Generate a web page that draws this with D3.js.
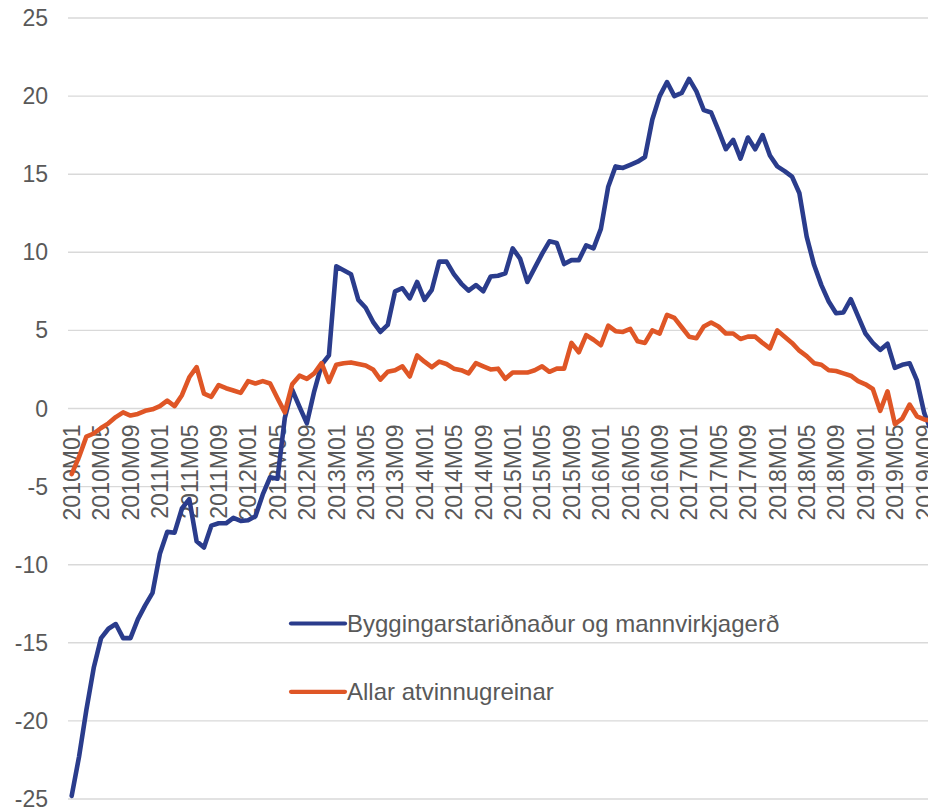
<!DOCTYPE html>
<html>
<head>
<meta charset="utf-8">
<script src="https://cdn.jsdelivr.net/npm/d3@7"></script>
<style>
    body { margin: 0; background: #fff; }
    text { font-family: "Liberation Sans", Arial, sans-serif; fill: #595959; }
</style>
</head>
<body>
<div id="main_view_panel"></div>
<script>
// months 2010M01 .. 2019M10
let months = [];
for (let y = 2010; y <= 2019; y++) {
    for (let m = 1; m <= 12; m++) {
        if (y == 2019 && m > 10) break;
        months.push(y + 'M' + (m < 10 ? '0' + m : m));
    }
}

let yTicks = [-25, -20, -15, -10, -5, 0, 5, 10, 15, 20, 25];

let seriesNames = ['Byggingarstariðnaður og mannvirkjagerð', 'Allar atvinnugreinar'];
let seriesColors = ['#2a3c8c', '#df5626'];

let bygging = [
    -24.8, -22.3, -19.3, -16.6, -14.7, -14.1, -13.8, -14.7, -14.7, -13.5, -12.6, -11.8,
    -9.3, -7.9, -7.95, -6.4, -5.8, -8.5, -8.9, -7.5, -7.35, -7.35, -7.0, -7.2,
    -7.15, -6.9, -5.5, -4.4, -4.5, -0.6, 1.2, 0.1, -0.95, 1.1, 2.8, 3.4,
    9.1, 8.85, 8.6, 6.95, 6.45, 5.55, 4.9, 5.35, 7.5, 7.7, 7.05, 8.1,
    6.95, 7.6, 9.4, 9.4, 8.6, 8.0, 7.55, 7.9, 7.5, 8.45, 8.5, 8.65,
    10.25, 9.6, 8.1, 9.0, 9.9, 10.7, 10.6, 9.25, 9.5, 9.5, 10.45, 10.25,
    11.5, 14.2, 15.5, 15.4, 15.6, 15.8, 16.1, 18.5, 20.0, 20.9, 20.0, 20.2,
    21.1, 20.3, 19.1, 18.95, 17.8, 16.6, 17.2, 16.0, 17.35, 16.6, 17.5, 16.2,
    15.5, 15.2, 14.85, 13.8, 11.0, 9.2, 7.9, 6.85, 6.1, 6.15, 7.0, 5.9,
    4.8, 4.2, 3.75, 4.15, 2.6, 2.8, 2.9, 1.8, -0.3, -1.5
];

let allar = [
    -4.2, -3.1, -1.8, -1.6, -1.25, -0.95, -0.55, -0.25, -0.45, -0.35, -0.15, -0.05,
    0.15, 0.5, 0.15, 0.85, 2.0, 2.65, 0.95, 0.75, 1.5, 1.3, 1.15, 1.0,
    1.75, 1.6, 1.75, 1.6, 0.65, -0.25, 1.55, 2.1, 1.9, 2.25, 2.9, 1.7,
    2.8, 2.9, 2.95, 2.85, 2.75, 2.5, 1.85, 2.35, 2.45, 2.7, 2.05, 3.4,
    3.0, 2.65, 3.0, 2.85, 2.55, 2.45, 2.25, 2.9, 2.7, 2.5, 2.55, 1.9,
    2.3, 2.3, 2.3, 2.45, 2.7, 2.35, 2.55, 2.55, 4.2, 3.6, 4.7, 4.4,
    4.05, 5.3, 4.95, 4.9, 5.1, 4.3, 4.2, 5.0, 4.8, 6.0, 5.8, 5.2,
    4.6, 4.5, 5.25, 5.5, 5.25, 4.8, 4.8, 4.45, 4.6, 4.6, 4.2, 3.85,
    5.0, 4.6, 4.2, 3.7, 3.35, 2.9, 2.8, 2.45, 2.4, 2.25, 2.1, 1.75,
    1.55, 1.25, -0.15, 1.1, -1.0, -0.65, 0.25, -0.5, -0.7, -0.8
];

let series = [bygging, allar];

let width = 928, height = 810;
let margin = { left: 68, top: 18, bottom: 11 };
let step = 7.35;

let svg = d3.select('#main_view_panel')
    .append('svg')
    .attr('width', width)
    .attr('height', height);

let x_axis = d3.scalePoint()
    .domain(months)
    .range([margin.left + step / 2, margin.left + step / 2 + (months.length - 1) * step]);

let y_axis = d3.scaleLinear()
    .domain([-25, 25])
    .range([height - margin.bottom, margin.top]);

// gridlines
svg.append('g')
    .selectAll('line')
    .data(yTicks)
    .enter()
    .append('line')
    .attr('x1', margin.left)
    .attr('x2', width)
    .attr('y1', d => y_axis(d))
    .attr('y2', d => y_axis(d))
    .style('stroke', '#d9d9d9')
    .style('stroke-width', 1.4);

// y labels
svg.append('g')
    .selectAll('text')
    .data(yTicks)
    .enter()
    .append('text')
    .attr('x', 48)
    .attr('y', d => y_axis(d))
    .attr('dy', '0.35em')
    .style('text-anchor', 'end')
    .style('font-size', '23px')
    .text(d => d);

// x labels sit just under the zero line
let labelMonths = months.filter((d, i) => i % 4 == 0);
svg.append('g')
    .selectAll('text')
    .data(labelMonths)
    .enter()
    .append('text')
    .attr('transform', d => 'translate(' + x_axis(d) + ',' + (y_axis(0) + 16) + ') rotate(-90)')
    .attr('dy', '0.36em')
    .style('text-anchor', 'end')
    .style('font-size', '23px')
    .text(d => d);

// lines
let line = d3.line()
    .x((d, i) => x_axis(months[i]))
    .y(d => y_axis(d));

svg.append('g')
    .selectAll('path')
    .data(series)
    .enter()
    .append('path')
    .attr('d', line)
    .style('fill', 'none')
    .style('stroke', (d, i) => seriesColors[i])
    .style('stroke-width', 4.6)
    .style('stroke-linejoin', 'round')
    .style('stroke-linecap', 'round');

// legend
let legend = svg.append('g')
    .selectAll('g')
    .data(seriesNames)
    .enter()
    .append('g')
    .attr('transform', (d, i) => 'translate(291,' + (623.5 + i * 68.3) + ')');

legend.append('line')
    .attr('x1', 0)
    .attr('x2', 54)
    .style('stroke', (d, i) => seriesColors[i])
    .style('stroke-width', 4.2)
    .style('stroke-linecap', 'round');

legend.append('text')
    .attr('x', 56)
    .attr('dy', '0.35em')
    .style('font-size', '24px')
    .text(d => d);
</script>
</body>
</html>
